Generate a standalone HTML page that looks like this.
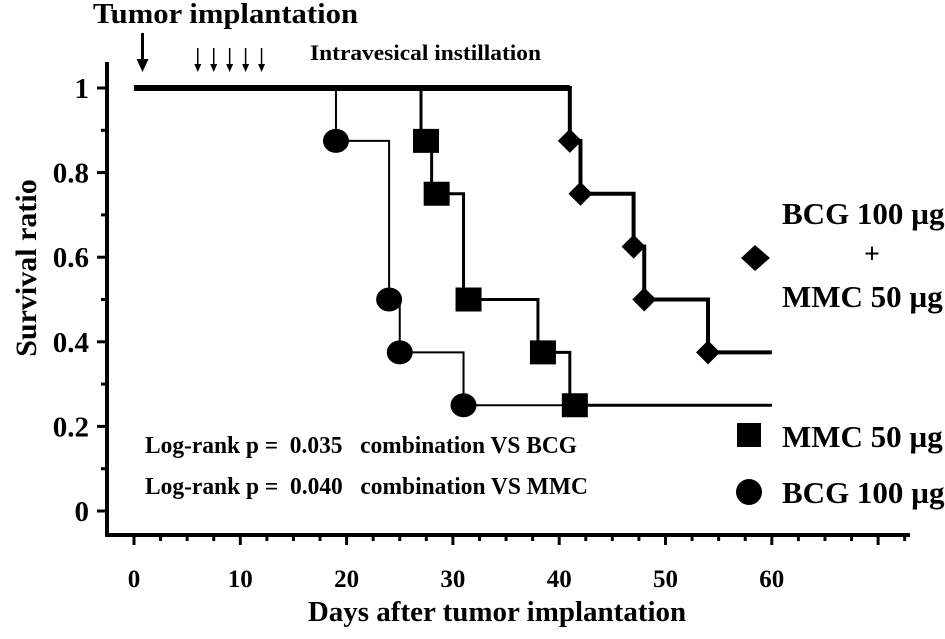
<!DOCTYPE html>
<html><head><meta charset="utf-8"><style>
html,body{margin:0;padding:0;background:#fff;}
svg text{font-family:"Liberation Serif",serif;font-weight:bold;fill:#000;white-space:pre;}
</style></head><body>
<svg width="945" height="634" viewBox="0 0 945 634" xmlns="http://www.w3.org/2000/svg">
<g id="axes"></g>
<g id="series"></g>
<text x="93" y="23" font-size="28" textLength="265" lengthAdjust="spacingAndGlyphs">Tumor implantation</text>
<text x="310" y="60" font-size="22" textLength="231" lengthAdjust="spacingAndGlyphs">Intravesical instillation</text>
<text transform="translate(36,268) rotate(-90)" text-anchor="middle" font-size="30">Survival ratio</text>
<text x="497" y="621" text-anchor="middle" font-size="29">Days after tumor implantation</text>
<text x="145" y="453" font-size="24" xml:space="preserve" textLength="432" lengthAdjust="spacingAndGlyphs">Log-rank p =  0.035   combination VS BCG</text>
<text x="145" y="494" font-size="24" xml:space="preserve" textLength="443" lengthAdjust="spacingAndGlyphs">Log-rank p =  0.040   combination VS MMC</text>
<g>
<path d="M741,258 L755,245 L770,258 L755,271 Z"/>
<text x="782" y="224" font-size="31">BCG 100 µg</text>
<text x="872" y="263" font-size="28" text-anchor="middle">+</text>
<text x="782" y="307" font-size="31">MMC 50 µg</text>
<rect x="737" y="423" width="24" height="24"/>
<text x="782" y="447" font-size="31">MMC 50 µg</text>
<circle cx="749" cy="492" r="13"/>
<text x="782" y="503" font-size="31">BCG 100 µg</text>
</g>
</svg>
<script>
const xTicks=[0,10,20,30,40,50,60];
const yTicks=[0,0.2,0.4,0.6,0.8,1];
const yTickLabels=["0","0.2","0.4","0.6","0.8","1"];
const instillDays=[6,7.5,9,10.5,12];
const combDays=[41,42,47,48,54];
const combVals=[0.875,0.75,0.625,0.5,0.375];
const mmcDays=[27,28,31,38,41];
const mmcVals=[0.875,0.75,0.5,0.375,0.25];
const bcgDays=[19,24,25,31];
const bcgVals=[0.875,0.5,0.375,0.25];
const endDay=60;
const NS="http://www.w3.org/2000/svg";
const X=d=>134+d*10.63;
const Y=v=>511-v*423;
function mk(tag,attrs,parent){const e=document.createElementNS(NS,tag);for(const k in attrs)e.setAttribute(k,attrs[k]);parent.appendChild(e);return e;}
const ax=document.getElementById('axes');
let e=mk('line',{x1:107,y1:62,x2:107,y2:537,stroke:'#000','stroke-width':4},ax);


e=mk('line',{x1:105,y1:535,x2:910,y2:535,stroke:'#000','stroke-width':4},ax);


for(let d=0;d<=72.5;d+=2.5){
  const t=mk('line',{x1:X(d),y1:535,x2:X(d),y2:d%10===0?545:541,stroke:'#000','stroke-width':3},ax);
  
  
}
xTicks.forEach(d=>{const t=mk('text',{x:X(d),y:587,'text-anchor':'middle','font-size':25},ax);t.textContent=d;
  
  });
for(let v=0;v<=1.001;v+=0.1){
  const major=Math.round(v*10)%2===0;
  const t=mk('line',{x1:major?97:101,y1:Y(v),x2:107,y2:Y(v),stroke:'#000','stroke-width':3},ax);
  
  
}
yTicks.forEach((v,i)=>{const t=mk('text',{x:89,y:Y(v)+10,'text-anchor':'end','font-size':29},ax);t.textContent=yTickLabels[i];
  
  });
function arrow(x,y1,y2,w,hw,hl,name){
  const a=mk('g',{},ax);
  
  
  mk('line',{x1:x,y1:y1,x2:x,y2:y2-hl+1,stroke:'#000','stroke-width':w},a);
  mk('path',{d:`M${x-hw},${y2-hl} L${x+hw},${y2-hl} L${x},${y2} Z`},a);
}
arrow(X(0.8),33,72,3,6,13,'implantation-arrow');
instillDays.forEach(d=>arrow(X(d),48,72,1.5,3.5,8,'instillation-arrow'));
const sg=document.getElementById('series');
function series(days,vals,w,name,marker){
  let d=`M${X(0)},${Y(1)}`;
  days.forEach((day,i)=>{d+=` H${X(day)} V${Y(vals[i])}`;});
  d+=` H${X(endDay)}`;
  const p=mk('path',{d:d,fill:'none',stroke:'#000','stroke-width':w,'stroke-linejoin':'miter'},sg);
  
  
  days.forEach((day,i)=>{
    const cx=X(day),cy=Y(vals[i]);let m;
    if(marker==='diamond')m=mk('path',{d:`M${cx-12},${cy} L${cx},${cy-12} L${cx+12},${cy} L${cx},${cy+12} Z`},sg);
    else if(marker==='square')m=mk('rect',{x:cx-13+5,y:cy-12,width:26,height:24},sg);
    else m=mk('ellipse',{cx:cx,cy:cy,rx:13,ry:12},sg);
    
    
  });
}
series(bcgDays,bcgVals,2,'bcg','circle');
series(mmcDays,mmcVals,3,'mmc','square');
series(combDays,combVals,4,'combination','diamond');
e=mk('line',{x1:X(0),y1:Y(1),x2:X(combDays[0]),y2:Y(1),stroke:'#000','stroke-width':6},sg);


</script>
</body></html>
